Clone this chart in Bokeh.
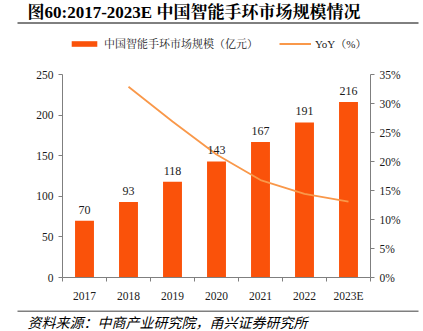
from bokeh.plotting import figure
from bokeh.layouts import column
from bokeh.models import (Range1d, LinearAxis, FixedTicker, ColumnDataSource, LabelSet,
                          Legend, LegendItem, CustomJSTickFormatter)
from bokeh.core.properties import value
from bokeh.embed import file_html
from bokeh.resources import INLINE

years = ["2017", "2018", "2019", "2020", "2021", "2022", "2023E"]
market = [70, 93, 118, 143, 167, 191, 216]
yoy_years = ["2018", "2019", "2020", "2021", "2022", "2023E"]
yoy = [32.9, 26.9, 21.2, 16.8, 14.4, 13.1]
left_ticks = [0, 50, 100, 150, 200, 250]
right_ticks = [0, 5, 10, 15, 20, 25, 30, 35]
left_max = 250
right_max = 35

title_text = "图60:2017-2023E 中国智能手环市场规模情况"
source_text = "资料来源：中商产业研究院，甬兴证券研究所"
bar_name = "中国智能手环市场规模（亿元）"
line_name = "YoY（%）"

BAR = "#FA520A"
LINE = "#F9984A"
AX = "#7F7F7F"
TXT = "#1A1A1A"
SERIF = "Liberation Serif, Noto Serif CJK SC, Noto Sans CJK SC"
CJK = "Noto Sans CJK SC"

W = 423
TOP_H = 24          # title strip
FOOT_H = 21         # footer strip
MAIN_H = 331 - TOP_H - FOOT_H
FL, FR = 62, 370    # frame left/right (canvas px)
Y_TOP_TICK = 74     # canvas y of the 250 / 35% tick
Y_ZERO = 277        # canvas y of the 0 baseline

# ---------- title strip ----------
t = figure(width=W, height=TOP_H, x_range=Range1d(0, W), y_range=Range1d(TOP_H, 0),
           x_axis_type=None, y_axis_type=None, min_border=0, frame_align=False,
           output_backend="svg", toolbar_location=None)
t.outline_line_color = None
t.grid.grid_line_color = None
t.text(x=[27], y=[11.5], text=[title_text], text_baseline="middle", text_align="left",
       text_font=value(SERIF), text_font_size="17px", text_font_style="bold",
       text_color="#000000")
t.segment(x0=[17], y0=[22.5], x1=[418], y1=[22.5], line_color="#000000", line_width=1)

# ---------- main chart ----------
frame_top = TOP_H
frame_h = Y_ZERO - frame_top
scale = frame_h / (Y_ZERO - Y_TOP_TICK)

pos = {y: i + 0.5 for i, y in enumerate(years)}

p = figure(width=W, height=MAIN_H, x_range=Range1d(0, len(years)),
           y_range=Range1d(0, left_max * scale),
           min_border_left=FL, min_border_right=W - FR, min_border_top=0,
           min_border_bottom=MAIN_H - frame_h, frame_align=False,
           output_backend="svg", toolbar_location=None)
p.outline_line_color = None
p.grid.grid_line_color = None
p.extra_y_ranges = {"yoy": Range1d(0, right_max * scale)}

src = ColumnDataSource(dict(x=[pos[y] for y in years], v=market,
                            lab=[str(v) for v in market]))
bars = p.vbar(x="x", top="v", width=0.43, source=src, fill_color=BAR, line_color=None)

lsrc = ColumnDataSource(dict(x=[pos[y] for y in yoy_years], v=yoy))
line = p.line(x="x", y="v", source=lsrc, y_range_name="yoy", line_color=LINE, line_width=1.8)

p.add_layout(LabelSet(x="x", y="v", text="lab", source=src, y_offset=7,
                      text_align="center", text_baseline="bottom",
                      text_font=value(SERIF), text_font_size="12px", text_color=TXT))

xa = p.xaxis[0]
xa.ticker = FixedTicker(ticks=[pos[y] for y in years],
                        minor_ticks=list(range(len(years) + 1)))
xa.major_label_overrides = {pos[y]: y for y in years}
xa.major_tick_line_color = None
xa.minor_tick_in = 0
xa.minor_tick_out = 4
xa.minor_tick_line_color = AX
xa.axis_line_color = AX
xa.major_label_text_font = SERIF
xa.major_label_text_font_size = "11.5px"
xa.major_label_text_color = TXT
xa.major_label_standoff = 6

ya = p.yaxis[0]
ya.ticker = FixedTicker(ticks=left_ticks)
ya.bounds = (0, left_max)
ya.minor_tick_line_color = None
ya.major_tick_in = 0
ya.major_tick_out = 4
ya.major_tick_line_color = AX
ya.axis_line_color = AX
ya.major_label_text_font = SERIF
ya.major_label_text_font_size = "11.5px"
ya.major_label_text_color = TXT
ya.major_label_standoff = 5

ra = LinearAxis(y_range_name="yoy", ticker=FixedTicker(ticks=right_ticks),
                formatter=CustomJSTickFormatter(code="return tick + '%';"),
                bounds=(0, right_max))
ra.minor_tick_line_color = None
ra.major_tick_in = 0
ra.major_tick_out = 4
ra.major_tick_line_color = AX
ra.axis_line_color = AX
ra.major_label_text_font = SERIF
ra.major_label_text_font_size = "11.5px"
ra.major_label_text_color = TXT
ra.major_label_standoff = 5
p.add_layout(ra, "right")

legend = Legend(items=[LegendItem(label=bar_name, renderers=[bars]),
                       LegendItem(label=line_name, renderers=[line])],
                orientation="horizontal",
                location=(68 - FL, Y_ZERO - 51),
                glyph_width=32, glyph_height=7, label_standoff=4, spacing=21,
                label_text_font=SERIF, label_text_font_size="11px",
                label_text_color=TXT, border_line_color=None,
                background_fill_alpha=0, padding=0, margin=0, label_height=12)
p.add_layout(legend)

# ---------- footer strip ----------
f = figure(width=W, height=FOOT_H, x_range=Range1d(0, W), y_range=Range1d(FOOT_H, 0),
           x_axis_type=None, y_axis_type=None, min_border=0, frame_align=False,
           output_backend="svg", toolbar_location=None)
f.outline_line_color = None
f.grid.grid_line_color = None
f.segment(x0=[17], y0=[0.5], x1=[418], y1=[0.5], line_color="#000000", line_width=1)
f.text(x=[27], y=[11.5], text=[source_text], text_baseline="middle", text_align="left",
       text_font=value(CJK), text_font_size="14px", text_font_style="italic",
       text_color="#000000")

layout = column(t, p, f, spacing=0)
open("out.html", "w").write(file_html(layout, INLINE))
